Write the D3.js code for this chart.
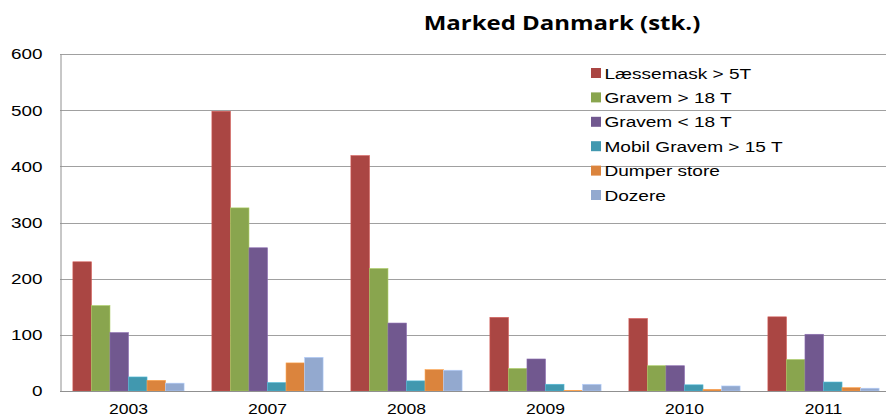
<!DOCTYPE html>
<html><head><meta charset="utf-8">
<script src="https://cdn.jsdelivr.net/npm/d3@7"></script>
<style>body{margin:0;background:#fff}svg{display:block}</style>
</head><body>
<svg id="c" width="886" height="417"></svg>
<script>
const categories = ["2003","2007","2008","2009","2010","2011"];
const seriesNames = ["Læssemask > 5T","Gravem > 18 T","Gravem < 18 T","Mobil Gravem > 15 T","Dumper store","Dozere"];
const laessemask = [230, 498, 419, 131, 129, 132];
const gravemOver18 = [152, 326, 218, 40, 45, 56];
const gravemUnder18 = [104, 255, 121, 57, 45, 101];
const mobilGravem = [25, 15, 18, 12, 11, 16];
const dumperStore = [19, 50, 38, 1, 3, 6];
const dozere = [14, 60, 37, 12, 9, 5];
const yTicks = [0, 100, 200, 300, 400, 500, 600];
const colors = ["#AA4643","#89A54E","#71588F","#4198AF","#DB843D","#93A9CF"];
const seriesValues = [laessemask, gravemOver18, gravemUnder18, mobilGravem, dumperStore, dozere];

const FONT = "Liberation Sans, Arial, sans-serif";
const svg = d3.select("#c");
const x0 = d3.scaleBand().domain(categories).range([59, 893]).paddingInner(0.2).paddingOuter(0.1);
const x1 = d3.scaleBand().domain(d3.range(seriesNames.length)).range([0, x0.bandwidth()]);
const y = d3.scaleLinear().domain([0, 600]).range([391, 54]);

// gridlines
svg.append("g").selectAll("line").data(yTicks.filter(d => d > 0)).join("line")
  .attr("x1", 60).attr("x2", 886)
  .attr("y1", d => Math.round(y(d)) + 0.5).attr("y2", d => Math.round(y(d)) + 0.5)
  .attr("stroke", "#a0a0a0").attr("stroke-width", 1);

// bars
const groups = svg.append("g").selectAll("g").data(categories).join("g")
  .attr("transform", d => `translate(${x0(d)},0)`);
groups.selectAll("rect").data((d, i) => seriesValues.map((s, k) => ({k, v: s[i]}))).join("rect")
  .attr("x", d => x1(d.k)).attr("width", x1.bandwidth())
  .attr("y", d => y(d.v)).attr("height", d => y(0) - y(d.v))
  .attr("fill", d => colors[d.k])
  .attr("stroke", d => d3.color(colors[d.k]).brighter(0.6)).attr("stroke-width", 0.6);

// axes
const sy = 1.22;
const yAxis = d3.axisLeft(y).tickValues(yTicks).tickSize(0).tickPadding(18);
const ga = svg.append("g").attr("transform", "translate(60.5,0)").call(yAxis);
ga.select(".domain").attr("stroke", "#909090");
ga.selectAll("text").attr("font-family", FONT).attr("font-size", 15.5).attr("fill", "#000")
  .attr("x", -18 / sy).attr("transform", `scale(${sy},1)`);

const sx = 1.17;
const xAxis = d3.axisBottom(x0).tickSize(0).tickPadding(12);
const gx = svg.append("g").attr("transform", "translate(0,391.5)").call(xAxis);
gx.select(".domain").remove();
svg.append("line").attr("x1", 60).attr("x2", 886).attr("y1", 391.5).attr("y2", 391.5).attr("stroke", "#909090");
gx.selectAll("text").attr("font-family", FONT).attr("font-size", 15).attr("fill", "#000")
  .attr("transform", `scale(${sx},1)`);

// title
svg.append("text").attr("transform", "translate(562,29.5) scale(1.23,1)").attr("text-anchor", "middle")
  .attr("font-family", "Open Sans, sans-serif").attr("font-weight", "bold").attr("font-size", 19.5)
  .text("Marked Danmark (stk.)");

// legend
const lg = svg.append("g").selectAll("g").data(seriesNames).join("g")
  .attr("transform", (d, i) => `translate(591,${73 + i * 24.4})`);
lg.append("rect").attr("x", 0).attr("y", -5).attr("width", 10).attr("height", 10)
  .attr("fill", (d, i) => colors[i]);
lg.append("text").attr("transform", "translate(13.5,0) scale(1.23,1)").attr("dy", "0.36em")
  .attr("font-family", FONT).attr("font-size", 15.5)
  .text(d => d);
</script>
</body></html>
